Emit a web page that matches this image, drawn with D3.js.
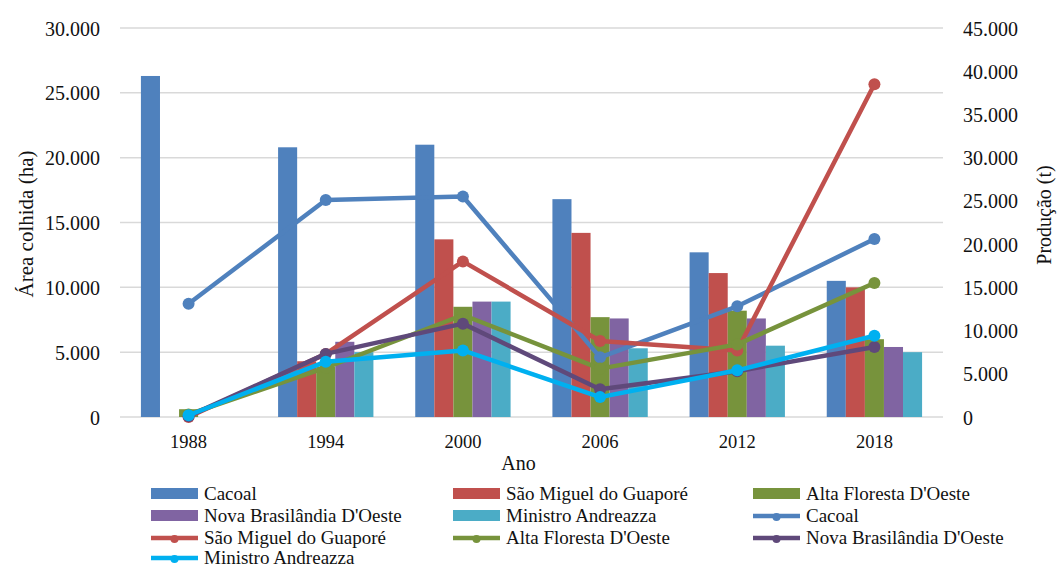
<!DOCTYPE html>
<html>
<head>
<meta charset="utf-8">
<script src="https://cdn.jsdelivr.net/npm/d3@7"></script>
<style>
  body { margin: 0; background: #fff; }
  svg text { fill: #111; }
</style>
</head>
<body>
<svg id="chart" width="1057" height="567"></svg>
<script>
// anos
const years = ["1988", "1994", "2000", "2006", "2012", "2018"];
const municipios = ["Cacoal", "São Miguel do Guaporé", "Alta Floresta D'Oeste", "Nova Brasilândia D'Oeste", "Ministro Andreazza"];

// área colhida (ha) - barras, eixo esquerdo
const areaCacoal = [26300, 20800, 21000, 16800, 12700, 10500];
const areaSaoMiguel = [0, 4300, 13700, 14200, 11100, 10000];
const areaAltaFloresta = [600, 3900, 8500, 7700, 8200, 6000];
const areaNovaBrasilandia = [0, 5800, 8900, 7600, 7600, 5400];
const areaMinistro = [0, 5000, 8900, 5300, 5500, 5000];

// produção (t) - linhas, eixo direito
const prodCacoal = [13100, 25100, 25500, 6900, 12800, 20600];
const prodSaoMiguel = [0, 7300, 18000, 8800, 7700, 38500];
const prodAltaFloresta = [300, 5700, 11800, 5600, 8400, 15500];
const prodNovaBrasilandia = [100, 7300, 10800, 3200, 5300, 8100];
const prodMinistro = [200, 6400, 7700, 2300, 5400, 9400];

const leftTicks = [0, 5000, 10000, 15000, 20000, 25000, 30000];
const rightTicks = [0, 5000, 10000, 15000, 20000, 25000, 30000, 35000, 40000, 45000];

const areaSeries = [areaCacoal, areaSaoMiguel, areaAltaFloresta, areaNovaBrasilandia, areaMinistro];
const prodSeries = [prodCacoal, prodSaoMiguel, prodAltaFloresta, prodNovaBrasilandia, prodMinistro];

const barColors = ["#4F81BD", "#C0504D", "#77933C", "#8064A2", "#4BACC6"];
const lineColors = ["#4F81BD", "#C0504D", "#77933C", "#5F497A", "#00B0F0"];

const serif = "Liberation Serif, DejaVu Serif";

const svg = d3.select("#chart").attr("font-family", serif);
const plot = { left: 120, right: 943, top: 28, bottom: 417 };

const fmt = d3.formatLocale({ decimal: ",", thousands: ".", grouping: [3], currency: ["", ""] }).format(",");

const x = d3.scaleBand().domain(years).range([plot.left, plot.right]).padding(0);
const groupW = x.bandwidth() * 0.695;
const xSub = d3.scaleBand().domain(d3.range(municipios.length)).range([0, groupW]).padding(0);
const yL = d3.scaleLinear().domain([0, 30000]).range([plot.bottom, plot.top]);
const yR = d3.scaleLinear().domain([0, 45000]).range([plot.bottom, plot.top]);

// gridlines
svg.append("g")
  .selectAll("line")
  .data(leftTicks)
  .enter()
  .append("line")
  .attr("x1", plot.left)
  .attr("x2", plot.right)
  .attr("y1", d => yL(d))
  .attr("y2", d => yL(d))
  .attr("stroke", "#D9D9D9")
  .attr("stroke-width", 1.5);

// left axis
const axisL = svg.append("g")
  .attr("transform", `translate(${plot.left - 20},0)`)
  .call(d3.axisLeft(yL).tickValues(leftTicks).tickFormat(fmt).tickSize(0).tickPadding(0));
axisL.attr("font-family", serif).attr("font-size", 20);
axisL.select(".domain").remove();
axisL.selectAll("text").attr("dy", "0.35em");

// right axis
const axisR = svg.append("g")
  .attr("transform", `translate(${plot.right + 20},0)`)
  .call(d3.axisRight(yR).tickValues(rightTicks).tickFormat(fmt).tickSize(0).tickPadding(0));
axisR.attr("font-family", serif).attr("font-size", 20);
axisR.select(".domain").remove();
axisR.selectAll("text").attr("dy", "0.35em");

// x axis
const axisX = svg.append("g")
  .attr("transform", `translate(0,${plot.bottom + 16})`)
  .call(d3.axisBottom(x).tickSize(0).tickPadding(0));
axisX.attr("font-family", serif).attr("font-size", 18.5);
axisX.select(".domain").remove();
axisX.selectAll("text").attr("dy", "0.8em");

// axis titles
svg.append("text")
  .attr("transform", "translate(33,224) rotate(-90)")
  .attr("text-anchor", "middle")
  .attr("font-size", 21)
  .text("Área colhida (ha)");

svg.append("text")
  .attr("transform", "translate(1051,215) rotate(-90)")
  .attr("text-anchor", "middle")
  .attr("font-size", 20)
  .text("Produção (t)");

svg.append("text")
  .attr("x", (plot.left + plot.right) / 2 - 13)
  .attr("y", 470)
  .attr("text-anchor", "middle")
  .attr("font-size", 20)
  .text("Ano");

// bars
const barData = [];
areaSeries.forEach((s, i) => {
  s.forEach((v, j) => barData.push({ i, year: years[j], value: v }));
});

svg.append("g")
  .selectAll("rect")
  .data(barData.filter(d => d.value > 0))
  .enter()
  .append("rect")
  .attr("x", d => x(d.year) + (x.bandwidth() - groupW) / 2 + xSub(d.i))
  .attr("width", xSub.bandwidth())
  .attr("y", d => yL(d.value))
  .attr("height", d => yL(0) - yL(d.value))
  .attr("fill", d => barColors[d.i]);

// lines
const line = d3.line()
  .x((d, j) => x(years[j]) + x.bandwidth() / 2)
  .y(d => yR(d));

prodSeries.forEach((s, i) => {
  const g = svg.append("g");
  g.append("path")
    .attr("d", line(s))
    .attr("fill", "none")
    .attr("stroke", lineColors[i])
    .attr("stroke-width", 4.5)
    .attr("stroke-linejoin", "round");
  g.selectAll("circle")
    .data(s)
    .enter()
    .append("circle")
    .attr("cx", (d, j) => x(years[j]) + x.bandwidth() / 2)
    .attr("cy", d => yR(d))
    .attr("r", 6)
    .attr("fill", lineColors[i]);
});

// legend
const legendItems = [];
municipios.forEach((m, i) => legendItems.push({ label: m, color: barColors[i], type: "bar" }));
municipios.forEach((m, i) => legendItems.push({ label: m, color: lineColors[i], type: "line" }));

const colX = [151, 453, 753];
const rowY = [494, 516, 538, 558];

const leg = svg.append("g")
  .selectAll("g")
  .data(legendItems)
  .enter()
  .append("g")
  .attr("transform", (d, k) => `translate(${colX[k % 3]},${rowY[Math.floor(k / 3)]})`);

leg.filter(d => d.type === "bar")
  .append("rect")
  .attr("x", 0)
  .attr("y", -6)
  .attr("width", 47)
  .attr("height", 11)
  .attr("fill", d => d.color);

leg.filter(d => d.type === "line")
  .append("line")
  .attr("x1", 0)
  .attr("x2", 47)
  .attr("y1", 0)
  .attr("y2", 0)
  .attr("stroke", d => d.color)
  .attr("stroke-width", 4.5);

leg.filter(d => d.type === "line")
  .append("circle")
  .attr("cx", 23.5)
  .attr("cy", 1)
  .attr("r", 4)
  .attr("fill", d => d.color);

leg.append("text")
  .attr("x", 53)
  .attr("y", 0)
  .attr("dy", "0.33em")
  .attr("font-size", 19)
  .text(d => d.label);
</script>
</body>
</html>
